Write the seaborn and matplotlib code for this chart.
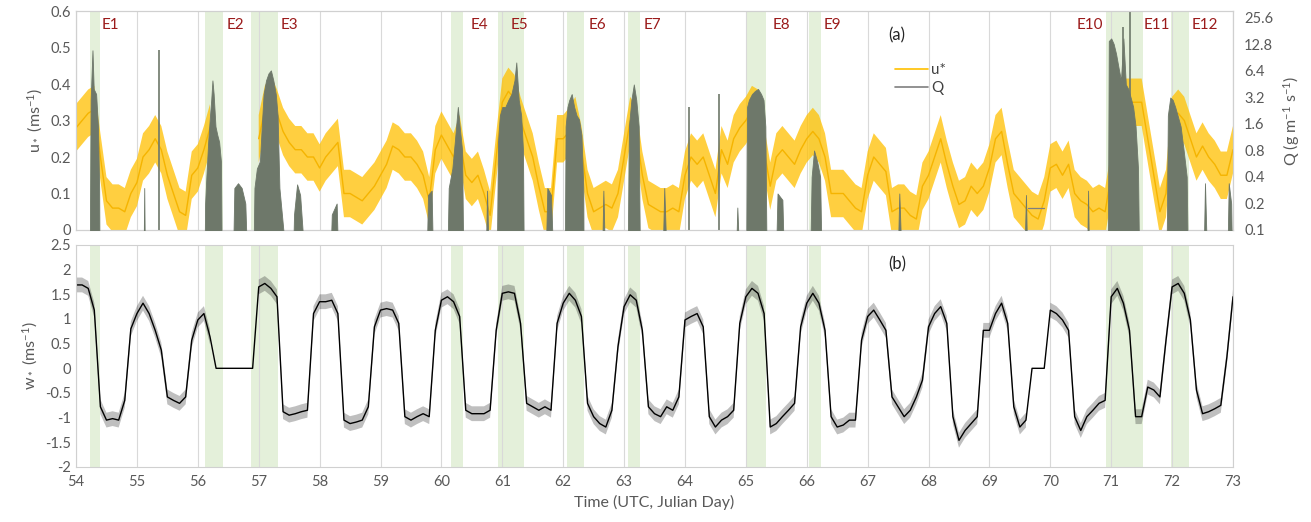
import numpy as np
import pandas as pd
import matplotlib
matplotlib.use("Agg")
import matplotlib.pyplot as plt
import seaborn as sns
from matplotlib.lines import Line2D
from matplotlib.ticker import MultipleLocator, FixedLocator, FixedFormatter

# time axis, every 0.1 day
days = np.round(np.arange(540, 731) / 10, 1)

# friction velocity u* (m/s), NaN = missing data
u_star = [
    0.28, 0.30, 0.32, 0.33, 0.20, 0.08, 0.06, 0.06, 0.05, 0.10,
    0.13, 0.20, 0.22, 0.25, 0.22, 0.15, 0.10, 0.05, 0.04, 0.15,
    0.17, 0.22, 0.28, np.nan, np.nan, np.nan, np.nan, np.nan, np.nan, np.nan,
    0.25, 0.33, 0.36, 0.32, 0.27, 0.24, 0.22, 0.22, 0.20, 0.20,
    0.17, 0.20, 0.22, 0.24, 0.10, 0.10, 0.09, 0.08, 0.10, 0.12,
    0.15, 0.18, 0.23, 0.22, 0.20, 0.20, 0.18, 0.15, 0.08, 0.22,
    0.26, 0.23, 0.20, 0.25, 0.15, 0.13, 0.15, 0.10, 0.04, 0.20,
    0.35, 0.38, 0.36, 0.30, 0.25, 0.20, 0.12, 0.05, 0.05, 0.25,
    0.25, 0.27, 0.30, 0.22, 0.10, 0.05, 0.06, 0.07, 0.06, 0.10,
    0.20, 0.30, 0.27, 0.15, 0.07, 0.06, 0.05, 0.05, 0.06, 0.05,
    0.15, 0.20, 0.18, 0.20, 0.15, 0.10, 0.22, 0.18, 0.25, 0.28,
    0.30, 0.33, 0.32, 0.22, 0.12, 0.20, 0.22, 0.20, 0.18, 0.22,
    0.25, 0.27, 0.25, 0.20, 0.10, 0.10, 0.10, 0.08, 0.06, 0.05,
    0.15, 0.20, 0.18, 0.16, 0.05, 0.06, 0.06, 0.04, 0.03, 0.12,
    0.15, 0.20, 0.25, 0.18, 0.12, 0.07, 0.08, 0.12, 0.10, 0.12,
    0.17, 0.25, 0.27, 0.18, 0.10, 0.08, 0.06, 0.04, 0.03, 0.08,
    0.17, 0.18, 0.15, 0.18, 0.10, 0.08, 0.07, 0.05, 0.06, 0.05,
    0.15, 0.30, 0.35, 0.35, 0.35, 0.35, 0.25, 0.15, 0.05, 0.10,
    0.30, 0.32, 0.30, 0.25, 0.20, 0.23, 0.20, 0.18, 0.15, 0.15,
    0.22,
]

# convective velocity w* (m/s)
w_star = [
    1.69, 1.69, 1.62, 1.18, -0.78, -1.05, -1.02, -1.05, -0.65, 0.80,
    1.11, 1.32, 1.11, 0.77, 0.37, -0.58, -0.65, -0.71, -0.58, 0.57,
    0.98, 1.11, 0.64, 0, 0, 0, 0, 0, 0, 0,
    1.65, 1.72, 1.62, 1.45, -0.88, -0.95, -0.92, -0.88, -0.85, 1.11,
    1.35, 1.35, 1.38, 1.11, -1.05, -1.12, -1.09, -1.05, -0.78, 0.84,
    1.18, 1.21, 1.18, 0.91, -0.98, -1.05, -0.98, -0.92, -0.98, 0.77,
    1.38, 1.45, 1.35, 1.05, -0.85, -0.92, -0.92, -0.92, -0.85, 0.77,
    1.52, 1.55, 1.52, 0.91, -0.71, -0.78, -0.85, -0.78, -0.85, 0.91,
    1.32, 1.52, 1.38, 1.05, -0.71, -0.98, -1.12, -1.19, -0.85, 0.44,
    1.25, 1.49, 1.38, 0.77, -0.78, -0.92, -0.98, -0.78, -0.85, -0.58,
    0.98, 1.05, 1.11, 0.84, -0.98, -1.19, -1.05, -0.98, -0.85, 0.91,
    1.45, 1.62, 1.52, 1.11, -1.19, -1.12, -0.98, -0.85, -0.71, 0.84,
    1.32, 1.52, 1.32, 0.77, -0.98, -1.19, -1.15, -1.05, -1.05, 0.57,
    1.05, 1.18, 0.98, 0.77, -0.58, -0.78, -0.98, -0.85, -0.58, -0.24,
    0.84, 1.11, 1.25, 0.91, -0.98, -1.46, -1.26, -1.12, -0.98, 0.77,
    0.77, 1.11, 1.32, 0.91, -0.78, -1.19, -1.05, 0, 0, 0,
    1.18, 1.11, 0.98, 0.77, -0.98, -1.26, -0.98, -0.85, -0.71, -0.65,
    1.45, 1.62, 1.32, 0.77, -0.98, -0.98, -0.38, -0.44, -0.58, 0.57,
    1.65, 1.72, 1.52, 0.98, -0.44, -0.92, -0.88, -0.82, -0.75, 0.23,
    1.45,
]

# sand flux Q (g m-1 s-1), read at irregular times
q_time = [
    54.00, 54.22, 54.24, 54.27, 54.29, 54.33, 54.36, 54.38, 54.39,
    55.10, 55.12, 55.14,
    56.10, 56.12, 56.14, 56.17, 56.20, 56.22, 56.24, 56.26, 56.29, 56.32, 56.35, 56.38, 56.40,
    56.56, 56.60, 56.66, 56.72, 56.78, 56.84,
    56.90, 56.93, 56.97, 57.02, 57.05, 57.08, 57.12, 57.16, 57.20, 57.24, 57.28, 57.31, 57.34,
    57.54, 57.58, 57.63, 57.68, 57.72, 57.74,
    58.15, 58.20, 58.28, 58.33,
    59.74, 59.78, 59.84, 59.88,
    60.08, 60.12, 60.18, 60.22, 60.27, 60.30, 60.34, 60.37,
    60.71, 60.75, 60.80,
    60.90, 60.93, 60.96, 61.00, 61.05, 61.10, 61.15, 61.20, 61.23, 61.27, 61.31, 61.34, 61.36,
    61.69, 61.74, 61.80, 61.87,
    62.02, 62.04, 62.07, 62.10, 62.14, 62.18, 62.22, 62.26, 62.30, 62.33, 62.34,
    62.62, 62.66, 62.71,
    63.05, 63.08, 63.12, 63.16, 63.20, 63.24, 63.27,
    63.61, 63.66, 63.73,
    64.81, 64.86, 64.93,
    65.00, 65.02, 65.05, 65.10, 65.15, 65.20, 65.25, 65.29, 65.32, 65.35,
    65.47, 65.52, 65.60, 65.65,
    66.04, 66.08, 66.12, 66.17, 66.22, 66.26,
    67.47, 67.52, 67.59,
    69.55, 69.60, 69.64,
    70.59, 70.62, 70.65,
    70.94, 70.96, 71.00, 71.04, 71.08, 71.12, 71.16, 71.20, 71.24, 71.28, 71.33, 71.36, 71.40, 71.44, 71.47,
    71.90, 71.93, 71.97, 72.01, 72.05, 72.09, 72.14, 72.19, 72.24, 72.27,
    72.50, 72.54, 72.60,
    72.89, 72.93, 72.97, 73.00,
]
q_value = [
    0, 0, 3.0, 11, 4, 3.5, 1.5, 0.3, 0,
    0, 0.3, 0,
    0, 0.2, 0.4, 1.0, 2.0, 3.0, 5.0, 3.5, 1.5, 1.2, 1.0, 0.6, 0,
    0, 0.3, 0.34, 0.3, 0.2, 0,
    0, 0.3, 0.5, 0.6, 1.5, 3.5, 5.0, 6.0, 6.5, 5.0, 3.5, 2.0, 0.3,
    0, 0.15, 0.33, 0.25, 0.1, 0,
    0, 0.15, 0.2, 0,
    0, 0.25, 0.28, 0,
    0, 0.3, 0.5, 1.0, 2.5, 1.5, 0.8, 0,
    0, 0.28, 0,
    0, 1.0, 2.0, 2.5, 2.5, 3.0, 3.5, 5.0, 8.0, 3.0, 2.0, 0.8, 0,
    0, 0.3, 0.25, 0,
    0, 1.5, 2.5, 3.0, 3.5, 2.5, 2.0, 1.8, 1.2, 0.3, 0,
    0, 0.28, 0,
    0, 1.5, 3.0, 4.5, 3.0, 1.5, 0,
    0, 0.3, 0,
    0, 0.18, 0,
    0, 2.5, 3.0, 3.5, 3.8, 4.0, 3.5, 3.0, 1.5, 0,
    0, 0.26, 0.22, 0,
    0, 0.4, 0.8, 0.6, 0.4, 0,
    0, 0.26, 0,
    0, 0.25, 0,
    0, 0.28, 0,
    0, 14, 15, 13, 10, 7, 5, 15, 4.5, 4, 3, 2.5, 1.5, 0.5, 0,
    0, 2.0, 3.2, 3.0, 2.5, 2.0, 1.5, 0.8, 0.4, 0,
    0, 0.34, 0,
    0, 0.34, 0.2, 0,
]
# isolated single-sample flux spikes
spike_time = [55.36, 64.06, 64.56, 71.20, 71.31]
spike_q = [11, 2.5, 3.5, 20, 30]
# flux held constant during the logger gap
hold_time = [69.64, 69.90]
hold_q = [0.18, 0.18]

# erosion events
event_start = [54.23, 56.12, 56.88, 60.15, 60.93, 62.06, 63.07, 65.00, 66.03, 70.92, 71.98]
event_end = [54.39, 56.41, 57.32, 60.36, 61.36, 62.34, 63.26, 65.33, 66.23, 71.53, 72.28]
event_names = ["E1", "E2", "E3", "E4", "E5", "E6", "E7", "E8", "E9", "E10", "E11", "E12"]
event_label_x = [54.56, 56.61, 57.51, 60.63, 61.28, 62.56, 63.46, 65.59, 66.43, 70.65, 71.75, 72.54]

q_ticks = [0.1, 0.2, 0.4, 0.8, 1.6, 3.2, 6.4, 12.8, 25.6]

sns.set_style("white")
plt.rcParams["font.family"] = ["Lato", "DejaVu Sans"]
plt.rcParams["mathtext.fontset"] = "custom"
plt.rcParams["mathtext.rm"] = "Lato"
plt.rcParams["mathtext.it"] = "Lato:italic"

grey_txt = "#595959"
spine_c = "#D0D0D0"
yellow = "#FFC000"
qcol = "#6E786A"

df = pd.DataFrame({"day": days, "u": u_star, "w": w_star})
df["seg"] = df["u"].isna().cumsum()

fig = plt.figure(figsize=(13.11, 5.22), dpi=100)
ax1 = fig.add_axes([0.058, 0.5594, 0.8825, 0.4195])
ax3 = fig.add_axes([0.058, 0.1054, 0.8825, 0.4253])

for ax in (ax1, ax3):
    for s, e in zip(event_start, event_end):
        ax.axvspan(s, e, color="#E4F0DA", lw=0, zorder=0)
    ax.set_xlim(54, 73)
    ax.xaxis.set_major_locator(MultipleLocator(1))
    ax.xaxis.set_minor_locator(MultipleLocator(0.2))
    ax.grid(axis="x", which="major", color="#D9D9D9", lw=0.8, zorder=0.5)
    ax.tick_params(axis="x", which="both", direction="inout", length=5,
                   color="#BFBFBF", labelsize=10.5, labelcolor=grey_txt)
    ax.tick_params(axis="y", length=0, labelsize=10.5, labelcolor=grey_txt)
    for sp in ax.spines.values():
        sp.set_color(spine_c)

# (a) u* and Q
ax1.fill_between(df["day"], df["u"] - 0.065, df["u"] + 0.065, color=yellow,
                 alpha=0.75, lw=0, zorder=1)
sns.lineplot(data=df.dropna(subset=["u"]), x="day", y="u", units="seg",
             estimator=None, color="#F5B400", lw=1.0, ax=ax1, zorder=2)
ax1.set_ylim(0, 0.6)
ax1.yaxis.set_major_locator(MultipleLocator(0.1))
ax1.yaxis.set_major_formatter(plt.FuncFormatter(lambda v, p: f"{v:g}"))
ax1.tick_params(axis="x", labelbottom=False)
ax1.set_xlabel("")
ax1.set_ylabel(r"u$_*$ (ms$^{-1}$)", fontsize=11.5, color=grey_txt)

ax2 = ax1.twinx()
ax2.set_yscale("log", base=2)
q_arr = np.array(q_value, dtype=float)
ax2.fill_between(q_time, 0.01, np.where(q_arr > 0, q_arr, 0.01), color=qcol,
                 lw=0.6, edgecolor=qcol, zorder=3)
ax2.vlines(spike_time, 0.01, spike_q, color=qcol, lw=1.2)
ax2.plot(hold_time, hold_q, color="#7F7F7F", lw=0.9)
ax2.set_ylim(0.1, 30.7)
ax2.yaxis.set_major_locator(FixedLocator(q_ticks))
ax2.yaxis.set_major_formatter(FixedFormatter([f"{v:g}" for v in q_ticks]))
ax2.yaxis.set_minor_locator(FixedLocator([]))
ax2.tick_params(axis="y", length=0, labelsize=10.5, labelcolor=grey_txt, pad=8)
for sp in ax2.spines.values():
    sp.set_color(spine_c)
ax2.set_ylabel(r"Q (g m$^{-1}$ s$^{-1}$)", fontsize=11.5, color=grey_txt, labelpad=6)
ax2.set_xlim(54, 73)

for name, x in zip(event_names, event_label_x):
    ax1.text(x, 0.562, name, color="#9B1B1B", fontsize=11, ha="center", va="center")
ax1.text(67.48, 0.534, "(a)", color="#262626", fontsize=12, ha="center", va="center")

handles = [Line2D([], [], color=yellow, lw=1.2), Line2D([], [], color="#7F7F7F", lw=1.2)]
fig.legend(handles, ["u*", "Q"], loc="upper left", bbox_to_anchor=(0.672, 0.905),
           frameon=False, handlelength=2.2, handletextpad=0.2, labelspacing=0.25,
           fontsize=11, labelcolor="#404040")

# (b) w*
sns.lineplot(data=df, x="day", y="w", color="black", lw=1.0, ax=ax3, zorder=2)
measured = (df["w"] != 0).to_numpy()
ax3.fill_between(df["day"], df["w"] - 0.15, df["w"] + 0.15, where=measured,
                 color="black", alpha=0.25, lw=0, zorder=1)
ax3.set_ylim(-2, 2.5)
ax3.yaxis.set_major_locator(MultipleLocator(0.5))
ax3.yaxis.set_major_formatter(plt.FuncFormatter(lambda v, p: f"{v:g}"))
ax3.set_ylabel(r"w$_*$ (ms$^{-1}$)", fontsize=11.5, color=grey_txt)
ax3.set_xlabel("Time (UTC, Julian Day)", fontsize=11.5, color=grey_txt)
ax3.text(67.48, 2.1, "(b)", color="#262626", fontsize=12, ha="center", va="center")

fig.savefig("out.png", dpi=100)
